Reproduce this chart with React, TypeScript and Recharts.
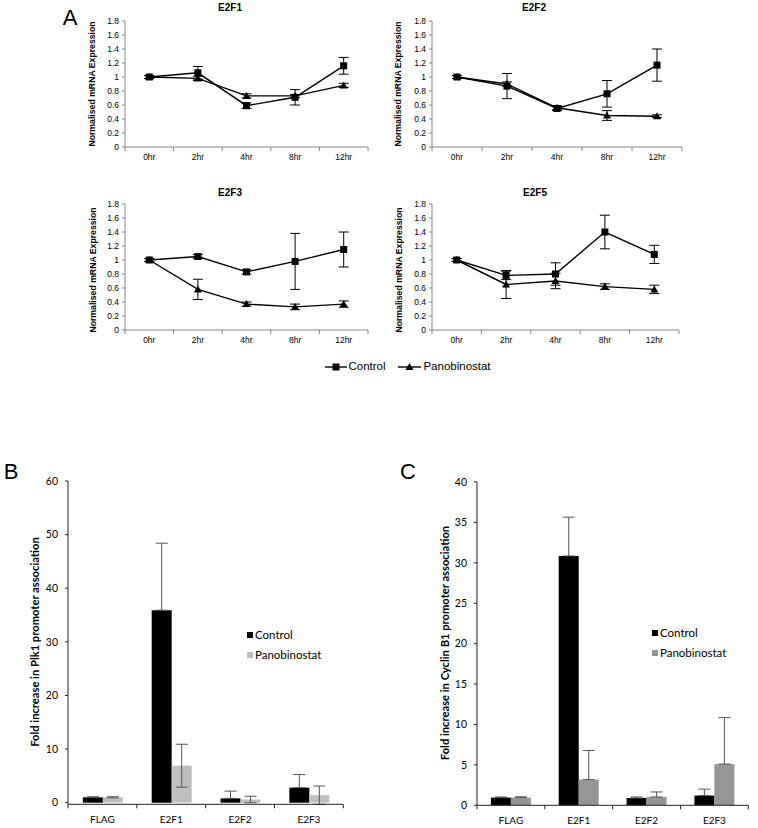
import React from "react";
import { LineChart, Line, BarChart, Bar, XAxis, YAxis, ErrorBar } from "recharts";

// ---- Panel A: time course ----
const hours = ["0hr", "2hr", "4hr", "8hr", "12hr"];
const mrnaTicks = [0, 0.2, 0.4, 0.6, 0.8, 1, 1.2, 1.4, 1.6, 1.8];

const e2f1Control = [1.0, 1.06, 0.59, 0.71, 1.16];
const e2f1ControlErr = [0.02, 0.09, 0.04, 0.11, 0.12];
const e2f1Pano = [1.0, 0.98, 0.73, 0.73, 0.88];
const e2f1PanoErr = [0.02, 0.03, 0.03, 0.02, 0.03];

const e2f2Control = [1.0, 0.87, 0.55, 0.76, 1.17];
const e2f2ControlErr = [0.02, 0.18, 0.03, 0.19, 0.23];
const e2f2Pano = [1.0, 0.9, 0.56, 0.45, 0.44];
const e2f2PanoErr = [0.02, 0.03, 0.03, 0.07, 0.02];

const e2f3Control = [1.0, 1.05, 0.83, 0.98, 1.15];
const e2f3ControlErr = [0.02, 0.03, 0.03, 0.4, 0.25];
const e2f3Pano = [1.0, 0.58, 0.37, 0.33, 0.37];
const e2f3PanoErr = [0.02, 0.145, 0.03, 0.04, 0.045];

const e2f5Control = [1.0, 0.78, 0.8, 1.4, 1.08];
const e2f5ControlErr = [0.02, 0.06, 0.16, 0.24, 0.13];
const e2f5Pano = [1.0, 0.65, 0.7, 0.62, 0.58];
const e2f5PanoErr = [0.02, 0.2, 0.11, 0.04, 0.06];

// ---- Panels B and C: ChIP ----
const genes = ["FLAG", "E2F1", "E2F2", "E2F3"];

const plkTicks = [0, 10, 20, 30, 40, 50, 60];
const plkControl = [1.0, 35.9, 0.8, 2.8];
const plkControlErr = [0.1, 12.5, 1.35, 2.45];
const plkPano = [1.0, 6.9, 0.6, 1.4];
const plkPanoErr = [0.1, 4.0, 0.6, 1.7];

const cycTicks = [0, 5, 10, 15, 20, 25, 30, 35, 40];
const cycControl = [0.95, 30.85, 0.9, 1.2];
const cycControlErr = [0.08, 4.8, 0.13, 0.8];
const cycPano = [0.95, 3.18, 1.03, 5.1];
const cycPanoErr = [0.1, 3.6, 0.62, 5.75];

const ARIAL = "'Liberation Sans', Arial, sans-serif";
const CALIBRI = "Lato, 'Open Sans', sans-serif";

function BandTick(props: any) {
  const { x, y, payload, index, band, count, baseline, font, size, color, tickColor } = props;
  const left = x - band / 2;
  const right = x + band / 2;
  return (
    <g>
      <line x1={left} x2={left} y1={y} y2={y + 4} stroke={tickColor} />
      {index === count - 1 && <line x1={right} x2={right} y1={y} y2={y + 4} stroke={tickColor} />}
      <text x={x} y={y + baseline} textAnchor="middle" fontFamily={font} fontSize={size} fill={color}>
        {payload.value}
      </text>
    </g>
  );
}

function SquareDot(props: any) {
  const { cx, cy, index } = props;
  if (cx == null || cy == null) return <g key={index} />;
  return <rect key={index} x={cx - 3.5} y={cy - 3.5} width={7} height={7} fill="#000" />;
}

function TriangleDot(props: any) {
  const { cx, cy, index } = props;
  if (cx == null || cy == null) return <g key={index} />;
  return <polygon key={index} points={`${cx},${cy - 4} ${cx + 4},${cy + 3} ${cx - 4},${cy + 3}`} fill="#000" />;
}

function Abs({ x, y, rotate, style, children }: any) {
  return (
    <div
      style={{
        position: "absolute",
        left: x,
        top: y,
        transform: `translate(-50%, -50%)${rotate ? " rotate(-90deg)" : ""}`,
        whiteSpace: "nowrap",
        lineHeight: 1,
        ...style,
      }}
    >
      {children}
    </div>
  );
}

function TimeCourse({ control, controlErr, pano, panoErr, left, top, plotW }: any) {
  const plotH = 126;
  const rows = hours.map((h, i) => ({
    hour: h,
    control: control[i],
    controlErr: controlErr[i],
    pano: pano[i],
    panoErr: panoErr[i],
  }));
  const band = plotW / hours.length;
  return (
    <div style={{ position: "absolute", left: left - 30, top: top - 8 }}>
      <LineChart width={plotW + 36} height={plotH + 8 + 22} data={rows} margin={{ top: 8, right: 6, left: 0, bottom: 0 }}>
        <XAxis
          dataKey="hour"
          scale="band"
          height={22}
          interval={0}
          axisLine={{ stroke: "#868686" }}
          tickLine={false}
          tickSize={0}
          tickMargin={0}
          tick={(p: any) => (
            <BandTick {...p} band={band} count={hours.length} baseline={13.3} font={ARIAL} size={8.5} color="#000" tickColor="#868686" />
          )}
        />
        <YAxis
          type="number"
          domain={[0, 1.8]}
          ticks={mrnaTicks}
          interval={0}
          width={30}
          axisLine={{ stroke: "#868686" }}
          tickLine={{ stroke: "#868686" }}
          tickSize={3}
          tickMargin={3}
          tick={{ fontFamily: ARIAL, fontSize: 8.5, fill: "#000" }}
        />
        <Line dataKey="pano" stroke="#000" strokeWidth={1.4} dot={TriangleDot} activeDot={false} isAnimationActive={false}>
          <ErrorBar dataKey="panoErr" width={5} stroke="#000" strokeWidth={1} direction="y" />
        </Line>
        <Line dataKey="control" stroke="#000" strokeWidth={1.4} dot={SquareDot} activeDot={false} isAnimationActive={false}>
          <ErrorBar dataKey="controlErr" width={5} stroke="#000" strokeWidth={1} direction="y" />
        </Line>
      </LineChart>
    </div>
  );
}

// the whisker running down inside a black bar can't be seen, so control bars show only the upper half
function ChipBars({ control, controlErr, pano, panoErr, panoPlusOnly, ticks, max, left, top, plotW, plotH, panoColor, gap }: any) {
  const rows = genes.map((g, i) => ({
    gene: g,
    control: control[i],
    controlErr: [0, controlErr[i]],
    pano: pano[i],
    panoErr: panoPlusOnly ? [0, panoErr[i]] : panoErr[i],
  }));
  const band = plotW / genes.length;
  return (
    <div style={{ position: "absolute", left: left - 40, top: top - 8 }}>
      <BarChart
        width={plotW + 46}
        height={plotH + 8 + 26}
        data={rows}
        margin={{ top: 8, right: 6, left: 0, bottom: 0 }}
        barCategoryGap={gap}
        barGap={0}
      >
        <XAxis
          dataKey="gene"
          height={26}
          interval={0}
          axisLine={{ stroke: "#222" }}
          tickLine={false}
          tickSize={0}
          tickMargin={0}
          tick={(p: any) => (
            <BandTick {...p} band={band} count={genes.length} baseline={19} font={CALIBRI} size={10} color="#000" tickColor="#222" />
          )}
        />
        <YAxis
          type="number"
          domain={[0, max]}
          ticks={ticks}
          interval={0}
          width={40}
          axisLine={{ stroke: "#222" }}
          tickLine={{ stroke: "#222" }}
          tickSize={3}
          tickMargin={7}
          tick={{ fontFamily: CALIBRI, fontSize: 10.5, fill: "#000" }}
        />
        <Bar dataKey="control" fill="#000" isAnimationActive={false}>
          <ErrorBar dataKey="controlErr" width={6} stroke="#555" strokeWidth={1} direction="y" />
        </Bar>
        <Bar dataKey="pano" fill={panoColor} isAnimationActive={false}>
          <ErrorBar dataKey="panoErr" width={6} stroke="#555" strokeWidth={1} direction="y" />
        </Bar>
      </BarChart>
    </div>
  );
}

const titleStyle = { fontFamily: ARIAL, fontSize: 10, fontWeight: 700 };
const mrnaLabelStyle = { fontFamily: ARIAL, fontSize: 8.7, fontWeight: 700 };
const letterStyle = { fontFamily: ARIAL, fontSize: 22 };
const chipLabelStyle = { fontFamily: CALIBRI, fontSize: 11.2, fontWeight: 700 };
const chipLegendStyle = { fontFamily: CALIBRI, fontSize: 11.5 };

function Swatch({ x, y, color }: any) {
  return <div style={{ position: "absolute", left: x, top: y, width: 6, height: 6, background: color }} />;
}

export default function App() {
  return (
    <div style={{ position: "absolute", left: 0, top: 0, width: 758, height: 828, background: "#fff", overflow: "hidden" }}>
      <Abs x={70} y={18} style={letterStyle}>A</Abs>

      <Abs x={230} y={8} style={titleStyle}>E2F1</Abs>
      <Abs x={92} y={84} rotate style={mrnaLabelStyle}>Normalised mRNA Expression</Abs>
      <TimeCourse control={e2f1Control} controlErr={e2f1ControlErr} pano={e2f1Pano} panoErr={e2f1PanoErr} left={125} top={20.7} plotW={243} />

      <Abs x={534} y={8} style={titleStyle}>E2F2</Abs>
      <Abs x={398} y={84} rotate style={mrnaLabelStyle}>Normalised mRNA Expression</Abs>
      <TimeCourse control={e2f2Control} controlErr={e2f2ControlErr} pano={e2f2Pano} panoErr={e2f2PanoErr} left={432} top={20.7} plotW={250} />

      <Abs x={230} y={193} style={titleStyle}>E2F3</Abs>
      <Abs x={93} y={270} rotate style={mrnaLabelStyle}>Normalised mRNA Expression</Abs>
      <TimeCourse control={e2f3Control} controlErr={e2f3ControlErr} pano={e2f3Pano} panoErr={e2f3PanoErr} left={125} top={204} plotW={243} />

      <Abs x={535} y={193} style={titleStyle}>E2F5</Abs>
      <Abs x={399} y={270} rotate style={mrnaLabelStyle}>Normalised mRNA Expression</Abs>
      <TimeCourse control={e2f5Control} controlErr={e2f5ControlErr} pano={e2f5Pano} panoErr={e2f5PanoErr} left={432} top={204} plotW={247} />

      {/* legend for panel A */}
      <svg style={{ position: "absolute", left: 320, top: 358 }} width={110} height={18}>
        <line x1={5} x2={27} y1={9} y2={9} stroke="#000" strokeWidth={1.4} />
        <rect x={12.5} y={5.5} width={7} height={7} fill="#000" />
        <line x1={78} x2={101} y1={9} y2={9} stroke="#000" strokeWidth={1.4} />
        <polygon points="89.5,5 93.5,12 85.5,12" fill="#000" />
      </svg>
      <Abs x={367} y={367} style={{ fontFamily: ARIAL, fontSize: 11.5 }}>Control</Abs>
      <Abs x={457} y={367} style={{ fontFamily: ARIAL, fontSize: 11.5 }}>Panobinostat</Abs>

      {/* Panel B */}
      <Abs x={11} y={472} style={letterStyle}>B</Abs>
      <Abs x={35} y={642} rotate style={chipLabelStyle}>Fold increase in Plk1 promoter association</Abs>
      <ChipBars
        control={plkControl}
        controlErr={plkControlErr}
        pano={plkPano}
        panoErr={plkPanoErr}
        panoPlusOnly={false}
        ticks={plkTicks}
        max={60}
        left={67.7}
        top={481}
        plotW={275.3}
        plotH={323.3}
        panoColor="#bfbfbf"
        gap="21.6%"
      />
      <Swatch x={246.5} y={631.5} color="#000" />
      <div style={{ position: "absolute", left: 255, top: 628, ...chipLegendStyle, lineHeight: "14px" }}>Control</div>
      <Swatch x={246.5} y={651.5} color="#bfbfbf" />
      <div style={{ position: "absolute", left: 255, top: 648, ...chipLegendStyle, lineHeight: "14px" }}>Panobinostat</div>

      {/* Panel C */}
      <Abs x={408} y={472} style={letterStyle}>C</Abs>
      <Abs x={445} y={643} rotate style={chipLabelStyle}>Fold increase in Cyclin B1 promoter association</Abs>
      <ChipBars
        control={cycControl}
        controlErr={cycControlErr}
        pano={cycPano}
        panoErr={cycPanoErr}
        panoPlusOnly={true}
        ticks={cycTicks}
        max={40}
        left={476.7}
        top={481.7}
        plotW={271.3}
        plotH={323.3}
        panoColor="#969696"
        gap="20.5%"
      />
      <Swatch x={651.5} y={630} color="#000" />
      <div style={{ position: "absolute", left: 660, top: 626, ...chipLegendStyle, lineHeight: "14px" }}>Control</div>
      <Swatch x={651.5} y={650} color="#969696" />
      <div style={{ position: "absolute", left: 660, top: 646, ...chipLegendStyle, lineHeight: "14px" }}>Panobinostat</div>
    </div>
  );
}
